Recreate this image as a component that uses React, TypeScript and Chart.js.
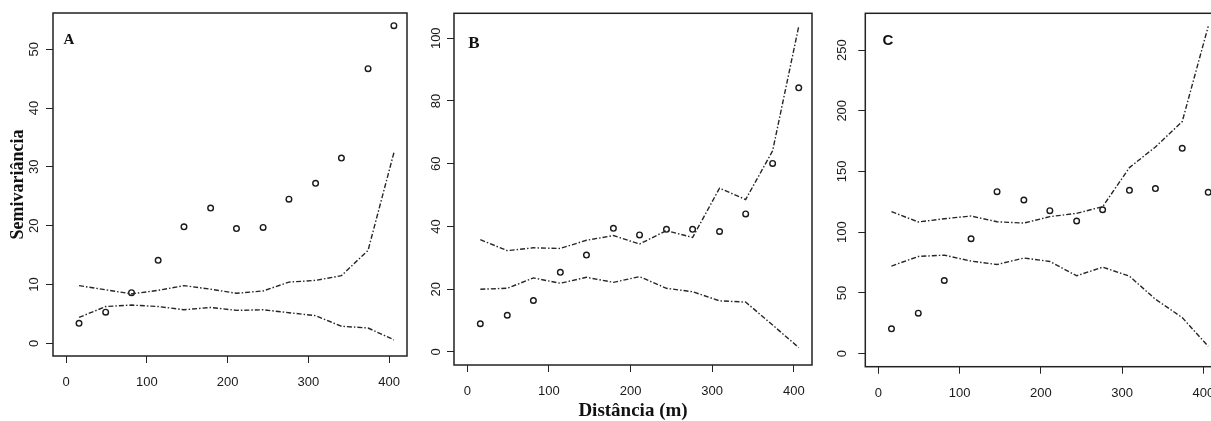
import React, { useEffect, useRef } from "react";
import { Chart, registerables } from "chart.js";

Chart.register(...registerables);

// ---- data ----
const lags = [16, 49, 81, 114, 146, 179, 211, 244, 276, 309, 341, 374, 406];
const xTicks = [0, 100, 200, 300, 400];

const semivarA = [3.4, 5.3, 8.6, 14.1, 19.8, 23.0, 19.5, 19.7, 24.5, 27.2, 31.5, 46.7, 54.0];
const upperA = [9.8, 9.1, 8.4, 9.0, 9.8, 9.2, 8.5, 8.9, 10.4, 10.7, 11.5, 15.8, 32.4];
const lowerA = [4.4, 6.25, 6.5, 6.25, 5.7, 6.1, 5.6, 5.7, 5.2, 4.7, 2.9, 2.6, 0.6];
const yTicksA = [0, 10, 20, 30, 40, 50];

const semivarB = [9.0, 11.7, 16.4, 25.4, 30.9, 39.4, 37.3, 39.1, 39.1, 38.4, 44.0, 60.1, 84.2];
const upperB = [35.8, 32.3, 33.2, 33.0, 35.6, 37.1, 34.4, 38.7, 36.5, 52.2, 48.6, 64.1, 103.8];
const lowerB = [20.0, 20.3, 23.6, 21.9, 23.8, 22.2, 24.0, 20.3, 19.2, 16.3, 15.9, 8.6, 1.4];
const yTicksB = [0, 20, 40, 60, 80, 100];

const semivarC = [20.4, 33.3, 60.2, 94.6, 133.4, 126.5, 117.7, 109.2, 118.5, 134.5, 135.9, 169.1, 132.8];
const upperC = [116.9, 108.4, 111.1, 113.3, 108.6, 107.5, 112.8, 115.5, 121.0, 153.2, 170.2, 191.1, 269.5];
const lowerC = [72.1, 80.0, 81.1, 76.2, 73.4, 78.7, 75.9, 64.1, 71.2, 63.8, 44.8, 29.7, 6.05];
const yTicksC = [0, 50, 100, 150, 200, 250];

const panelLabels = ["A", "B", "C"];
const yTitle = "Semivariância";
const xTitle = "Distância (m)";

// ---- styling / layout ----
type PanelCfg = {
  label: string;
  semivar: number[];
  upper: number[];
  lower: number[];
  yTicks: number[];
  left: number;
  width: number;
  yAxisWidth: number;
  padRight: number;
  padTop: number;
  xAxisHeight: number;
  yTickPad: number;
  xTickPad: number;
  showYTitle: boolean;
  showXTitle: boolean;
  labelFont: string;
  labelDx: number;
  labelDy: number;
};

const panels: PanelCfg[] = [
  {
    label: panelLabels[0], semivar: semivarA, upper: upperA, lower: lowerA, yTicks: yTicksA,
    left: 0, width: 420, yAxisWidth: 53, padRight: 13, padTop: 13, xAxisHeight: 65,
    yTickPad: 4.5, xTickPad: 12, showYTitle: true, showXTitle: false,
    labelFont: "bold 15px 'Liberation Serif', 'Times New Roman', serif", labelDx: 16, labelDy: 27,
  },
  {
    label: panelLabels[1], semivar: semivarB, upper: upperB, lower: lowerB, yTicks: yTicksB,
    left: 420, width: 400, yAxisWidth: 34, padRight: 8, padTop: 13.3, xAxisHeight: 56,
    yTickPad: -0.5, xTickPad: 12, showYTitle: false, showXTitle: true,
    labelFont: "bold 17px 'Liberation Serif', 'Times New Roman', serif", labelDx: 20, labelDy: 30,
  },
  {
    label: panelLabels[2], semivar: semivarC, upper: upperC, lower: lowerC, yTicks: yTicksC,
    left: 820, width: 420, yAxisWidth: 45.3, padRight: 18.6, padTop: 13.3, xAxisHeight: 54.3,
    yTickPad: 5, xTickPad: 12, showYTitle: false, showXTitle: false,
    labelFont: "bold 15px 'Liberation Sans', Arial, sans-serif", labelDx: 22.7, labelDy: 28,
  },
];

const boxPlugin = {
  id: "rbox",
  afterDraw(chart: any, _args: any, opts: any) {
    const { ctx, chartArea: a } = chart;
    ctx.save();
    ctx.strokeStyle = "#222";
    ctx.lineWidth = 1.5;
    ctx.strokeRect(a.left, a.top, a.right - a.left, a.bottom - a.top);
    ctx.font = opts.font;
    ctx.fillStyle = "#111";
    ctx.textAlign = "center";
    ctx.textBaseline = "middle";
    ctx.fillText(opts.text, a.left + opts.dx, a.top + opts.dy);
    ctx.restore();
  },
};

const tickFont = { family: "'Liberation Sans', Arial, sans-serif", size: 13 };
const titleFont = { family: "'Liberation Serif', 'Times New Roman', serif", size: 19, weight: "bold" as const, lineHeight: 1 };

function Panel({ p }: { p: PanelCfg }) {
  const ref = useRef<HTMLCanvasElement>(null);
  useEffect(() => {
    const xMaxData = Math.max(...lags);
    const xMin = -0.04 * xMaxData;
    const xMax = xMaxData * 1.04;
    const yMaxData = Math.max(...p.semivar, ...p.upper, ...p.lower);
    const yMin = -0.04 * yMaxData;
    const yMax = yMaxData * 1.04;
    const toPts = (arr: number[]) => lags.map((x, i) => ({ x, y: arr[i] }));
    const envStyle = {
      showLine: true,
      borderColor: "#262626",
      borderWidth: 1.4,
      borderDash: [5, 2, 1.5, 2],
      pointRadius: 0,
      fill: false,
      tension: 0,
    };
    const chart = new Chart(ref.current!, {
      type: "scatter",
      data: {
        datasets: [
          { data: toPts(p.upper), ...envStyle } as any,
          { data: toPts(p.lower), ...envStyle } as any,
          {
            data: toPts(p.semivar),
            showLine: false,
            pointStyle: "circle",
            pointRadius: 2.8,
            pointBorderWidth: 1.4,
            backgroundColor: "rgba(0,0,0,0)",
            borderColor: "#1a1a1a",
          },
        ],
      },
      options: {
        animation: false,
        responsive: false,
        devicePixelRatio: 1,
        layout: { padding: { left: 0, right: p.padRight, top: p.padTop, bottom: 0 } },
        plugins: {
          legend: { display: false },
          tooltip: { enabled: false },
          rbox: { text: p.label, font: p.labelFont, dx: p.labelDx, dy: p.labelDy },
        } as any,
        scales: {
          x: {
            type: "linear",
            min: xMin,
            max: xMax,
            afterBuildTicks: (s: any) => {
              s.ticks = xTicks.map((v) => ({ value: v }));
            },
            afterFit: (s: any) => {
              s.height = p.xAxisHeight;
            },
            border: { display: false },
            grid: { drawOnChartArea: false, drawTicks: true, tickLength: 7, color: "#222", lineWidth: 1 },
            ticks: { autoSkip: false, maxRotation: 0, minRotation: 0, font: tickFont, color: "#1a1a1a", padding: p.xTickPad },
            title: { display: p.showXTitle, text: xTitle, font: titleFont, color: "#111", padding: { top: 0, bottom: 0 } },
          },
          y: {
            type: "linear",
            min: yMin,
            max: yMax,
            afterBuildTicks: (s: any) => {
              s.ticks = p.yTicks.map((v) => ({ value: v }));
            },
            afterFit: (s: any) => {
              s.width = p.yAxisWidth;
            },
            border: { display: false },
            grid: { drawOnChartArea: false, drawTicks: true, tickLength: 7, color: "#222", lineWidth: 1 },
            ticks: {
              autoSkip: false,
              minRotation: 90,
              maxRotation: 90,
              crossAlign: "center",
              font: tickFont,
              color: "#1a1a1a",
              padding: p.yTickPad,
            },
            title: { display: p.showYTitle, text: yTitle, font: { ...titleFont, size: 18 }, color: "#111", padding: { top: 9, bottom: 0 } },
          },
        },
      },
      plugins: [boxPlugin as any],
    });
    return () => chart.destroy();
  }, [p]);
  return (
    <canvas
      ref={ref}
      width={p.width}
      height={421}
      style={{ position: "absolute", left: p.left, top: 0, width: p.width, height: 421 }}
    />
  );
}

export default function App() {
  return (
    <div
      style={{
        position: "fixed",
        left: 0,
        top: 0,
        width: 1211,
        height: 421,
        overflow: "hidden",
        background: "#fff",
      }}
    >
      {panels.map((p) => (
        <Panel key={p.label} p={p} />
      ))}
    </div>
  );
}
